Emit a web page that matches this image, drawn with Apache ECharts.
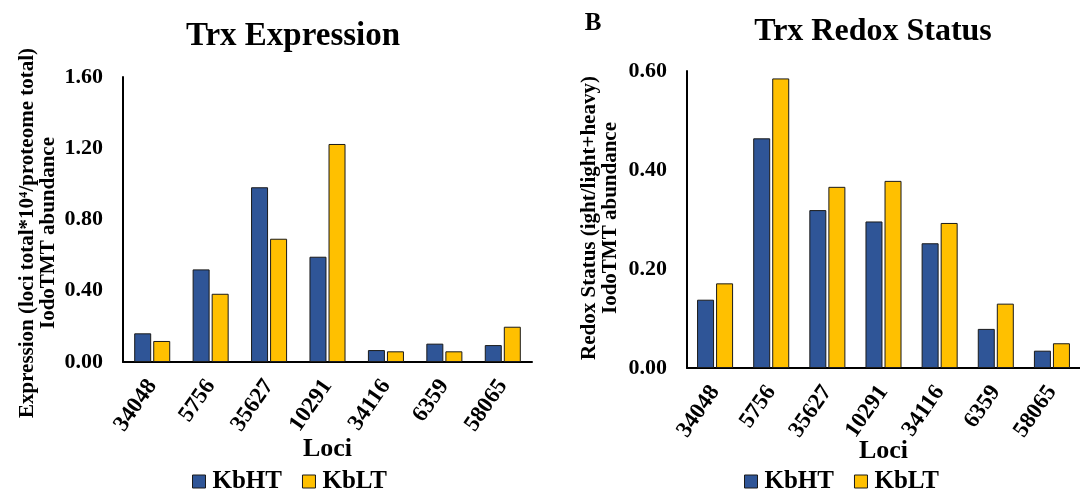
<!DOCTYPE html>
<html>
<head>
<meta charset="utf-8">
<script src="https://cdn.jsdelivr.net/npm/echarts@6/dist/echarts.min.js"></script>
<style>
html,body{margin:0;padding:0;background:#fff;}
#chart{width:1080px;height:497px;}
</style>
</head>
<body>
<div id="chart"></div>
<script>
// ---- data ----
var categories = ['34048', '5756', '35627', '10291', '34116', '6359', '58065'];
var expressionKbHT = [0.161, 0.520, 0.981, 0.591, 0.067, 0.103, 0.095];
var expressionKbLT = [0.118, 0.383, 0.692, 1.224, 0.060, 0.060, 0.198];
var redoxKbHT = [0.138, 0.464, 0.319, 0.296, 0.252, 0.079, 0.035];
var redoxKbLT = [0.171, 0.585, 0.366, 0.378, 0.293, 0.130, 0.050];
var seriesNames = ['KbHT', 'KbLT'];
var titles = ['Trx Expression', 'Trx Redox Status'];
var yNames = ['Expression (loci total*10\u2074/proteome total)\nIodoTMT abundance',
              'Redox Status (ight/light+heavy)\nIodoTMT abundance'];
var xName = 'Loci';
var panelLabel = 'B';

var FONT = '"Liberation Serif", "Times New Roman", serif';
var BLUE = '#2F5597';
var YELLOW = '#FFC000';

var chart = echarts.init(document.getElementById('chart'), null, {renderer: 'canvas'});

function xAxisCfg(gi, gap) {
  return {
    type: 'category', gridIndex: gi, data: categories,
    axisLine: {show: true, lineStyle: {color: '#000', width: 2}},
    axisTick: {show: false},
    axisLabel: {rotate: 55, margin: 20, color: '#000', fontFamily: FONT, fontWeight: 'bold', fontSize: 23},
    name: xName, nameLocation: 'middle', nameGap: gap, nameMoveOverlap: false,
    nameTextStyle: {color: '#000', fontFamily: FONT, fontWeight: 'bold', fontSize: 26}
  };
}
function yAxisCfg(gi, max, interval) {
  return {
    type: 'value', gridIndex: gi, min: 0, max: max, interval: interval,
    axisLine: {show: true, lineStyle: {color: '#000', width: 2}},
    axisTick: {show: false},
    splitLine: {show: false},
    axisLabel: {margin: 20, color: '#000', fontFamily: FONT, fontWeight: 'bold', fontSize: 22,
      formatter: function (v) { return v.toFixed(2); }}
  };
}
function barSeries(name, data, gi, color) {
  return {
    type: 'bar', name: name, data: data, xAxisIndex: gi, yAxisIndex: gi,
    barWidth: 17, barGap: '12%',
    itemStyle: {color: color, borderColor: '#1a1a1a', borderWidth: 1},
    emphasis: {disabled: true}
  };
}
function textGraphic(text, x, y, size, rot) {
  return {
    type: 'text', x: x, y: y, rotation: rot || 0,
    style: {text: text, fill: '#000', font: 'bold ' + size + 'px ' + FONT,
      textAlign: 'center', textVerticalAlign: 'middle', lineHeight: 21}
  };
}
function legendCfg(left) {
  return {
    data: seriesNames, left: left, top: 469, icon: 'rect', itemWidth: 13, itemHeight: 13,
    itemGap: 20, padding: 0,
    itemStyle: {borderColor: '#1a1a1a', borderWidth: 1},
    textStyle: {color: '#000', fontFamily: FONT, fontWeight: 'bold', fontSize: 25, padding: [0, 0, 0, 2]}
  };
}

var option = {
  backgroundColor: '#fff',
  animation: false,
  grid: [
    {left: 123, top: 77, width: 409, height: 285},
    {left: 687, top: 71, width: 400, height: 297}
  ],
  xAxis: [xAxisCfg(0, 74), xAxisCfg(1, 70)],
  yAxis: [yAxisCfg(0, 1.6, 0.4), yAxisCfg(1, 0.6, 0.2)],
  legend: [legendCfg(192), legendCfg(744)],
  series: [
    barSeries(seriesNames[0], expressionKbHT, 0, BLUE),
    barSeries(seriesNames[1], expressionKbLT, 0, YELLOW),
    barSeries(seriesNames[0], redoxKbHT, 1, BLUE),
    barSeries(seriesNames[1], redoxKbLT, 1, YELLOW)
  ],
  graphic: [
    textGraphic(titles[0], 293, 36, 33),
    textGraphic(titles[1], 873, 32, 32),
    textGraphic(panelLabel, 593, 24, 25),
    textGraphic(yNames[0], 38, 233, 21, Math.PI / 2),
    textGraphic(yNames[1], 600, 218, 21, Math.PI / 2)
  ]
};
chart.setOption(option);
</script>
</body>
</html>
